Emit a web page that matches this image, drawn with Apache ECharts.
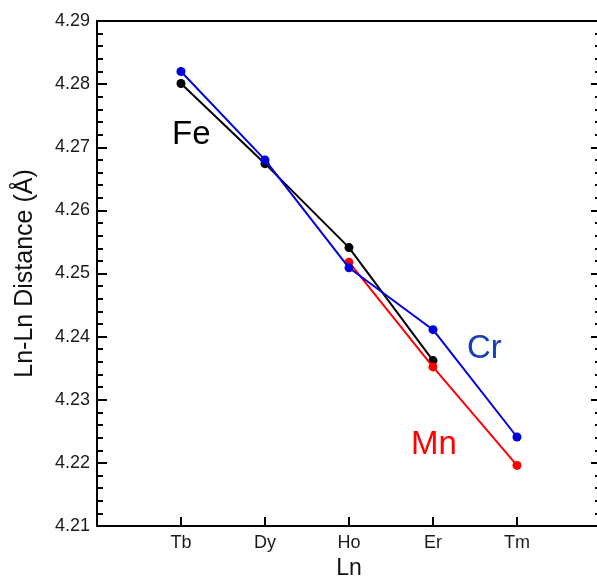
<!DOCTYPE html>
<html>
<head>
<meta charset="utf-8">
<style>
  html, body { margin: 0; padding: 0; background: #fff; }
  #chart { width: 597px; height: 582px; }
</style>
<script src="https://cdn.jsdelivr.net/npm/echarts@6/dist/echarts.min.js"></script>
</head>
<body>
<div id="chart"></div>
<script>
// Lanthanides on the x axis, placed at positions 1..5
const lnNames = ['Tb', 'Dy', 'Ho', 'Er', 'Tm'];

// Ln-Ln distance (Å) per series, null = no sample
const feValues = [4.2801, 4.2674, 4.2541, 4.2362, null];
const crValues = [4.2820, 4.2680, 4.2509, 4.2411, 4.2241];
const mnValues = [null, null, 4.2518, 4.2352, 4.2196];

const yTicks = [4.21, 4.22, 4.23, 4.24, 4.25, 4.26, 4.27, 4.28, 4.29];

const toPairs = vals => vals.map((v, i) => [i + 1, v]).filter(p => p[1] !== null);

const chart = echarts.init(document.getElementById('chart'), null, { renderer: 'canvas' });

const font = 'Liberation Sans, Arial, sans-serif';

function lineSeries(name, color, vals, z) {
  return {
    name, type: 'line', data: toPairs(vals), z,
    symbol: 'circle', symbolSize: 9,
    lineStyle: { color, width: 2 },
    itemStyle: { color },
    animation: false
  };
}

const tickStyle = { color: '#000', width: 2 };
// onZero off, otherwise the right axis jumps onto x = 0
const frameLine = { show: true, onZero: false, lineStyle: tickStyle };

chart.setOption({
  animation: false,
  grid: { left: 97, top: 21, width: 504, height: 505, containLabel: false, outerBoundsMode: 'none' },
  xAxis: [{
    type: 'value', min: 0, max: 6, interval: 1,
    name: 'Ln', nameLocation: 'middle', nameGap: 29,
    nameTextStyle: { fontFamily: font, fontSize: 23, color: '#111' },
    axisLine: frameLine,
    axisTick: { show: true, inside: true, length: 9, lineStyle: tickStyle },
    axisLabel: {
      margin: 8, fontFamily: font, fontSize: 18, color: '#1a1a1a',
      formatter: v => lnNames[v - 1] || ''
    },
    splitLine: { show: false }
  }, {
    type: 'value', min: 0, max: 6, position: 'top',
    axisLine: frameLine,
    axisTick: { show: false }, axisLabel: { show: false }, splitLine: { show: false }
  }],
  yAxis: [{
    type: 'value', min: yTicks[0], max: yTicks[yTicks.length - 1], interval: 0.01,
    name: 'Ln-Ln Distance (Å)', nameLocation: 'middle', nameGap: 59,
    nameTextStyle: { fontFamily: font, fontSize: 25, color: '#111' },
    axisLine: frameLine,
    axisTick: { show: true, inside: true, length: 10, lineStyle: tickStyle },
    minorTick: { show: true, splitNumber: 5, length: 6, lineStyle: tickStyle },
    axisLabel: {
      margin: 7, fontFamily: font, fontSize: 18, color: '#1a1a1a',
      padding: [0, 0, 4, 0],
      formatter: v => v.toFixed(2)
    },
    splitLine: { show: false }, minorSplitLine: { show: false }
  }, {
    type: 'value', min: yTicks[0], max: yTicks[yTicks.length - 1], interval: 0.01, position: 'right',
    axisLine: frameLine,
    axisTick: { show: true, inside: true, length: 10, lineStyle: tickStyle },
    minorTick: { show: true, splitNumber: 5, length: 6, lineStyle: tickStyle },
    axisLabel: { show: false }, splitLine: { show: false }
  }],
  series: [
    lineSeries('Fe', '#000000', feValues, 2),
    lineSeries('Mn', '#ff0000', mnValues, 3),
    lineSeries('Cr', '#0000dd', crValues, 4)
  ],
  graphic: [
    { type: 'text', left: 172, top: 118, style: { text: 'Fe', font: '33px ' + font, fill: '#000' } },
    { type: 'text', left: 467, top: 332, style: { text: 'Cr', font: '33px ' + font, fill: '#1a3cb8' } },
    { type: 'text', left: 411, top: 428, style: { text: 'Mn', font: '33px ' + font, fill: '#ff0000' } }
  ]
});
</script>
</body>
</html>
